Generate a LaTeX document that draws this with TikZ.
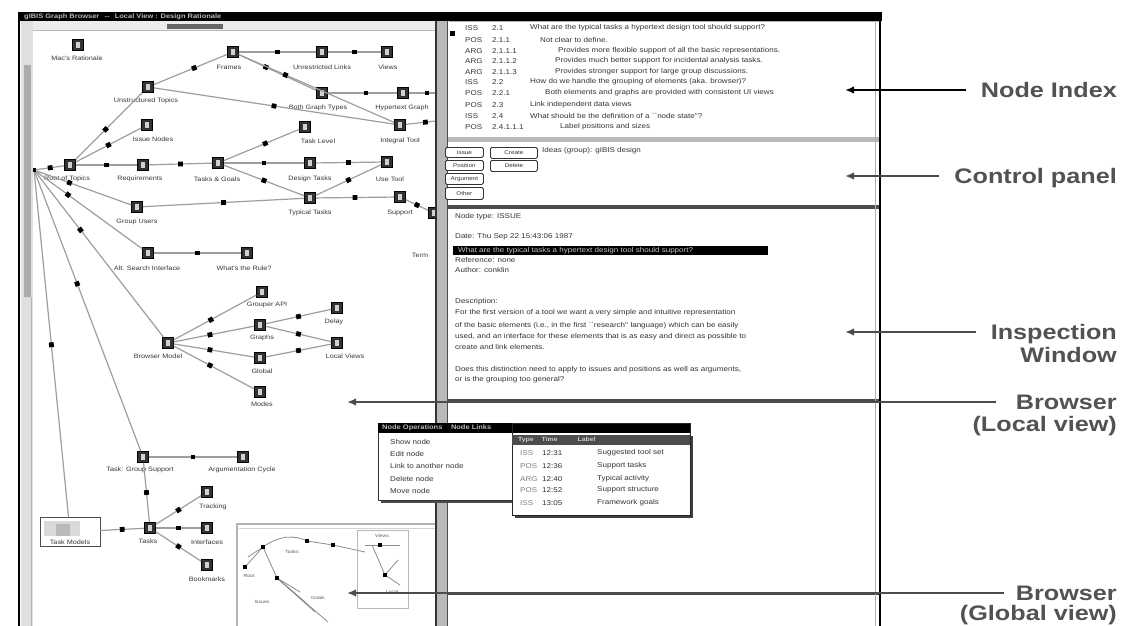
\documentclass[tikz,border=0pt]{standalone}
\usepackage{fontspec}
\setmainfont{Liberation Sans}
\newfontfamily\labfont[FakeStretch=1.2]{Liberation Sans}
\newfontfamily\scrfont[FakeStretch=1.15]{Liberation Sans}
\usetikzlibrary{arrows.meta,decorations.markings}
\begin{document}
\begin{tikzpicture}[x=1pt,y=-1pt,
  gnode/.style={draw=black, fill=black!80, minimum size=11pt, inner sep=0pt, line width=0.6pt,
    path picture={\fill[gray!35] ([xshift=-1.8pt,yshift=-2.6pt]path picture bounding box.center) rectangle ([xshift=1.8pt,yshift=2.6pt]path picture bounding box.center);}},
  glab/.style={font=\scrfont\fontsize{6.3}{7}\selectfont, text=black!78, inner sep=0pt},
  gedge/.style={draw=black!38, line width=1.2pt},
  mkat/.style={postaction={decorate,decoration={markings,mark=at position #1 with {\fill[black] (-2.4pt,-2.4pt) rectangle (2.4pt,2.4pt);}}}},
  scr/.style={font=\scrfont\fontsize{7}{8}\selectfont, text=black!80, inner sep=0pt, anchor=west},
  tiny/.style={font=\scrfont\fontsize{4.5}{5}\selectfont, text=black!65, inner sep=0pt},
  lab/.style={font=\labfont\bfseries\fontsize{21}{22}\selectfont, text=black!68, inner sep=0pt, anchor=base east},
  callout/.style={line width=2.2pt, -{Latex[length=9pt,width=7.5pt]}},
  btn/.style={draw=black!80, line width=0.8pt, fill=white, rounded corners=1.5pt, inner sep=0pt, font=\scrfont\fontsize{5.5}{6}\selectfont, text=black!80, anchor=north west},
  dot/.style={fill=black, minimum size=4pt, inner sep=0pt}
]
\useasboundingbox (0,0) rectangle (1136,626);
\fill[white] (0,0) rectangle (1136,626);

% ---------- left pane : local browser ----------
\begin{scope}
\clip (33,31) rectangle (436,626);
\node[dot] (rt) at (34,170) {};
\coordinate (e1) at (445,93);
\coordinate (e2) at (445,120);
\foreach \n/\x/\y/\lx/\ly/\t in {
  n1/78/45/77/58/Mac's Rationale,
  n2/233/52/229/67/Frames,
  n3/322/52/322/67/Unrestricted Links,
  n4/387/52/388/67/Views,
  n5/148/87/146/101/Unstructured Topics,
  n6/322/93/318/108/Both Graph Types,
  n7/403/93/402/108/Hypertext Graph,
  n8/147/125/153/139/Issue Nodes,
  n9/305/127/318/141/Task Level,
  n10/400/125/400/141/Integral Tool,
  n11/70/165/67/179/Root of Topics,
  n12/143/165/140/179/Requirements,
  n13/218/163/217/179/Tasks \& Goals,
  n14/310/163/310/179/Design Tasks,
  n15/387/162/390/179/Use Tool,
  n16/310/198/310/213/Typical Tasks,
  n17/400/197/400/213/Support,
  n18/137/207/137/222/Group Users,
  n19/148/253/147/268/Alt. Search Interface,
  n20/247/253/244/268/What's the Rule?,
  n21/262/292/267/305/Grouper API,
  n22/260/325/262/338/Graphs,
  n23/337/308/334/322/Delay,
  n24/168/343/158/356/Browser Model,
  n25/337/343/345/356/Local Views,
  n26/260/358/262/371/Global,
  n27/260/392/262/404/Modes,
  n28/143/457/140/470/Task: Group Support,
  n29/243/457/242/470/Argumentation Cycle,
  n30/207/492/213/507/Tracking,
  n31/150/528/148/541/Tasks,
  n32/207/528/207/542/Interfaces,
  n33/207/565/207/579/Bookmarks,
  n34/434/213/420/255/Term}
{
  \node[gnode] (\n) at (\x,\y) {};
  \node[glab] (\n l) at (\lx,\ly) {\t};
}
\node[draw=black!70, fill=white, minimum width=60pt, minimum height=29pt, inner sep=0pt] (box) at (70,532) {};
\fill[gray!30] (44,521) rectangle (80,536);
\fill[gray!55] (56,524) rectangle (70,536);
\node[glab] (boxl) at (70,542) {Task Models};
\foreach \a/\b/\p in {
  rt/n11/.5, n11/n5/.45, n11/n8/.5, n11/n12/.5, n5/n2/.55, n5/n10/.5,
  n2/n3/.5, n3/n4/.5, n2/n6/.35, n2/n10/.3, n6/n7/.55, n7/e1/.5, n10/e2/.5,
  n12/n13/.5, n13/n9/.55, n13/n14/.5, n14/n15/.5, n13/n16/.5, n16/n17/.5,
  n16/n15/.5, n17/n34/.5, rt/n18/.35, n18/n16/.5, rt/n19/.3, n19/n20/.5,
  rt/n24/.35, n24/n21/.45, n24/n22/.45, n24/n26/.45, n24/n27/.45,
  n22/n23/.5, n22/n25/.5, n26/n25/.5, rt/n28/.4, rt/box/.5, n28/n29/.5,
  n28/n31/.5, n31/n30/.5, n31/n32/.5, n31/n33/.5, box/n31/.5}
{
  \draw[gedge,mkat=\p] (\a) -- (\b);
}
\end{scope}

% ---------- global view window ----------
\fill[white] (237,524) rectangle (436,626);
\draw[gray!60, line width=1.5pt] (237,626) -- (237,524) -- (436,524);
\draw[gray!35, line width=1pt] (239,528) -- (436,528);
\begin{scope}[line width=0.8pt, draw=black!45]
\draw (245,567) -- (263,547) .. controls (280,535) and (295,535) .. (307,541) -- (333,545);
\draw (248,557) -- (263,547);
\draw (277,578) -- (300,592);
\draw (277,578) -- (305,602);
\draw (277,578) -- (315,612);
\draw (277,578) -- (328,622);
\draw (263,547) -- (277,578);
\draw (333,545) -- (365,552);
\draw[gray!55] (357,530) rectangle (408,608);
\draw (365,545) -- (400,545);
\draw (372,545) -- (385,575) -- (400,585);
\draw (385,575) -- (398,560);
\end{scope}
\fill (261,545) rectangle (265,549);
\fill (305,539) rectangle (309,543);
\fill (331,543) rectangle (335,547);
\fill (275,576) rectangle (279,580);
\fill (243,565) rectangle (247,569);
\fill (378,543) rectangle (382,547);
\fill (383,573) rectangle (387,577);
\node[tiny] (gv1) at (249,576) {Root};
\node[tiny] (gv2) at (292,552) {Tasks};
\node[tiny] (gv3) at (318,598) {Goals};
\node[tiny] (gv4) at (382,536) {Views};
\node[tiny] (gv5) at (392,592) {Local};
\node[tiny] (gv6) at (262,602) {Issues};

% ---------- screen chrome ----------
\fill[black] (19,12) rectangle (882,21);
\node[font=\scrfont\bfseries\fontsize{6.5}{7}\selectfont, text=gray!55, inner sep=0pt, anchor=west] (title) at (24,16.6) {gIBIS Graph Browser \, -- \, Local View : Design Rationale};
\fill[gray!15] (33,21) rectangle (436,30);
\fill[black!60] (167,24) rectangle (223,29);
\draw[gray!55, line width=1pt] (33,30.5) -- (436,30.5);
\fill[gray!25] (21,21) rectangle (33,626);
\fill[gray!65] (24,65) rectangle (31,297);
\draw[black, line width=2pt] (19,12) -- (19,626);
\draw[gray!60, line width=1pt] (31,297) -- (31,626);
\fill[gray!55] (436,21) rectangle (448,626);
\draw[black!80, line width=1.2pt] (436,21) -- (436,626);
\draw[black!70, line width=1.2pt] (447.5,21) -- (447.5,626);
\fill[gray!55] (448,137) rectangle (880,142);
\fill[black!70] (448,205) rectangle (880,209);
\fill[black!70] (448,399) rectangle (880,402.5);
\fill[black!72] (448,592) rectangle (880,595);
\draw[gray!60, line width=1pt] (449,22) -- (880,22);
\draw[gray!60, line width=1pt] (875,21) -- (875,626);
\draw[black, line width=2pt] (880,12) -- (880,626);

% ---------- node index ----------
\fill[black] (450,31) rectangle (455,36);
\foreach \i/\y/\k/\num/\tx/\t in {
  1/28/ISS/2.1/530/What are the typical tasks a hypertext design tool should support?,
  2/40/POS/2.1.1/540/Not clear to define.,
  3/51/ARG/2.1.1.1/558/Provides more flexible support of all the basic representations.,
  4/61/ARG/2.1.1.2/555/Provides much better support for incidental analysis tasks.,
  5/72/ARG/2.1.1.3/555/Provides stronger support for large group discussions.,
  6/82/ISS/2.2/530/How do we handle the grouping of elements (aka. browser)?,
  7/93/POS/2.2.1/545/Both elements and graphs are provided with consistent UI views,
  8/105/POS/2.3/530/Link independent data views,
  9/116/ISS/2.4/530/What should be the definition of a ``node state''?,
  10/127/POS/2.4.1.1.1/560/Label positions and sizes}
{
  \node[scr] (ik\i) at (465,\y) {\k};
  \node[scr] (in\i) at (492,\y) {\num};
  \node[scr] (it\i) at (\tx,\y) {\t};
}

% ---------- control panel ----------
\node[btn, minimum width=38pt, minimum height=10pt] (b1) at (445,147) {Issue};
\node[btn, minimum width=38pt, minimum height=10pt] (b2) at (445,160) {Position};
\node[btn, minimum width=38pt, minimum height=11pt] (b3) at (445,173) {Argument};
\node[btn, minimum width=38pt, minimum height=12pt] (b4) at (445,187) {Other};
\node[btn, minimum width=47pt, minimum height=11pt] (b5) at (490,147) {Create};
\node[btn, minimum width=47pt, minimum height=11pt] (b6) at (490,160) {Delete};
\node[scr] (cpt) at (542,151) {Ideas (group): gIBIS design};

% ---------- inspection window ----------
\node[scr] (iw1) at (455,217) {Node type: ISSUE};
\node[scr] (iw2) at (455,237) {Date: Thu Sep 22 15:43:06 1987};
\fill[black] (453,246) rectangle (768,254.5);
\node[scr, text=gray!45] (iw3) at (458,250.3) {What are the typical tasks a hypertext design tool should support?};
\node[scr] (iw4) at (455,260) {Reference: none};
\node[scr] (iw5) at (455,270) {Author: conklin};
\node[scr] (iw6) at (455,302) {Description:};
\node[scr] (iw7) at (455,313) {For the first version of a tool we want a very simple and intuitive representation};
\node[scr] (iw8) at (455,326) {of the basic elements (i.e., in the first ``research'' language) which can be easily};
\node[scr] (iw9) at (455,337) {used, and an interface for these elements that is as easy and direct as possible to};
\node[scr] (iw10) at (455,347) {create and link elements.};
\node[scr] (iw11) at (455,370) {Does this distinction need to apply to issues and positions as well as arguments,};
\node[scr] (iw12) at (455,380) {or is the grouping too general?};

% ---------- popup menus ----------
\fill[black!70] (381,426) rectangle (516,503);
\fill[white] (378,423) rectangle (513,500);
\draw[black!80, line width=0.8pt] (378,423) rectangle (513,500);
\fill[black] (378,423) rectangle (690,433);
\node[scr, text=gray!55, font=\scrfont\bfseries\fontsize{6.5}{7}\selectfont] (m1t) at (382,428) {Node Operations \quad Node Links};
\node[scr] (m1a) at (390,442) {Show node};
\node[scr] (m1b) at (390,454) {Edit node};
\node[scr] (m1c) at (390,466) {Link to another node};
\node[scr] (m1d) at (390,479) {Delete node};
\node[scr] (m1e) at (390,491) {Move node};
\fill[black!75] (515,436) rectangle (693,518);
\fill[white] (512,433) rectangle (690,515);
\draw[black!85, line width=1pt] (512,423) rectangle (690,515);
\fill[black!70] (512,435) rectangle (690,445);
\node[scr, text=gray!40, font=\scrfont\bfseries\fontsize{6}{7}\selectfont] (m2h) at (518,440) {Type \quad Time \qquad\quad Label};
\foreach \i/\y/\k/\tm/\t in {1/453/ISS/12:31/Suggested tool set, 2/466/POS/12:36/Support tasks, 3/479/ARG/12:40/Typical activity, 4/490/POS/12:52/Support structure, 5/503/ISS/13:05/Framework goals}
{
  \node[scr, text=black!50] (m2k\i) at (520,\y) {\k};
  \node[scr] (m2m\i) at (542,\y) {\tm};
  \node[scr] (m2l\i) at (597,\y) {\t};
}

% ---------- callouts ----------
\coordinate (tipNI) at (845,90);
\coordinate (tipCP) at (845,176);
\coordinate (tipIW) at (845,332);
\coordinate (tipLV) at (347,402);
\coordinate (tipGV) at (347,593);
\node[lab] (lNI) at (1117,97.5) {Node Index};
\node[lab] (lCP) at (1117,183.5) {Control panel};
\node[lab] (lIW1) at (1117,339.5) {Inspection};
\node[lab] (lIW2) at (1117,362) {Window};
\node[lab] (lLV1) at (1117,409.5) {Browser};
\node[lab] (lLV2) at (1117,431) {(Local view)};
\node[lab] (lGV1) at (1117,600.5) {Browser};
\node[lab] (lGV2) at (1117,620) {(Global view)};
\draw[callout, black] ([xshift=-15pt,yshift=7.5pt]lNI.base west) -- (tipNI);
\draw[callout, black!70] ([xshift=-15pt,yshift=7.5pt]lCP.base west) -- (tipCP);
\draw[callout, black!70] ([xshift=-15pt,yshift=7.5pt]lIW1.base west) -- (tipIW);
\draw[callout, black!70] ([xshift=-20pt,yshift=7.5pt]lLV1.base west) -- (tipLV);
\draw[callout, black!70] ([xshift=-12pt,yshift=7.5pt]lGV1.base west) -- (tipGV);
\end{tikzpicture}
\end{document}
